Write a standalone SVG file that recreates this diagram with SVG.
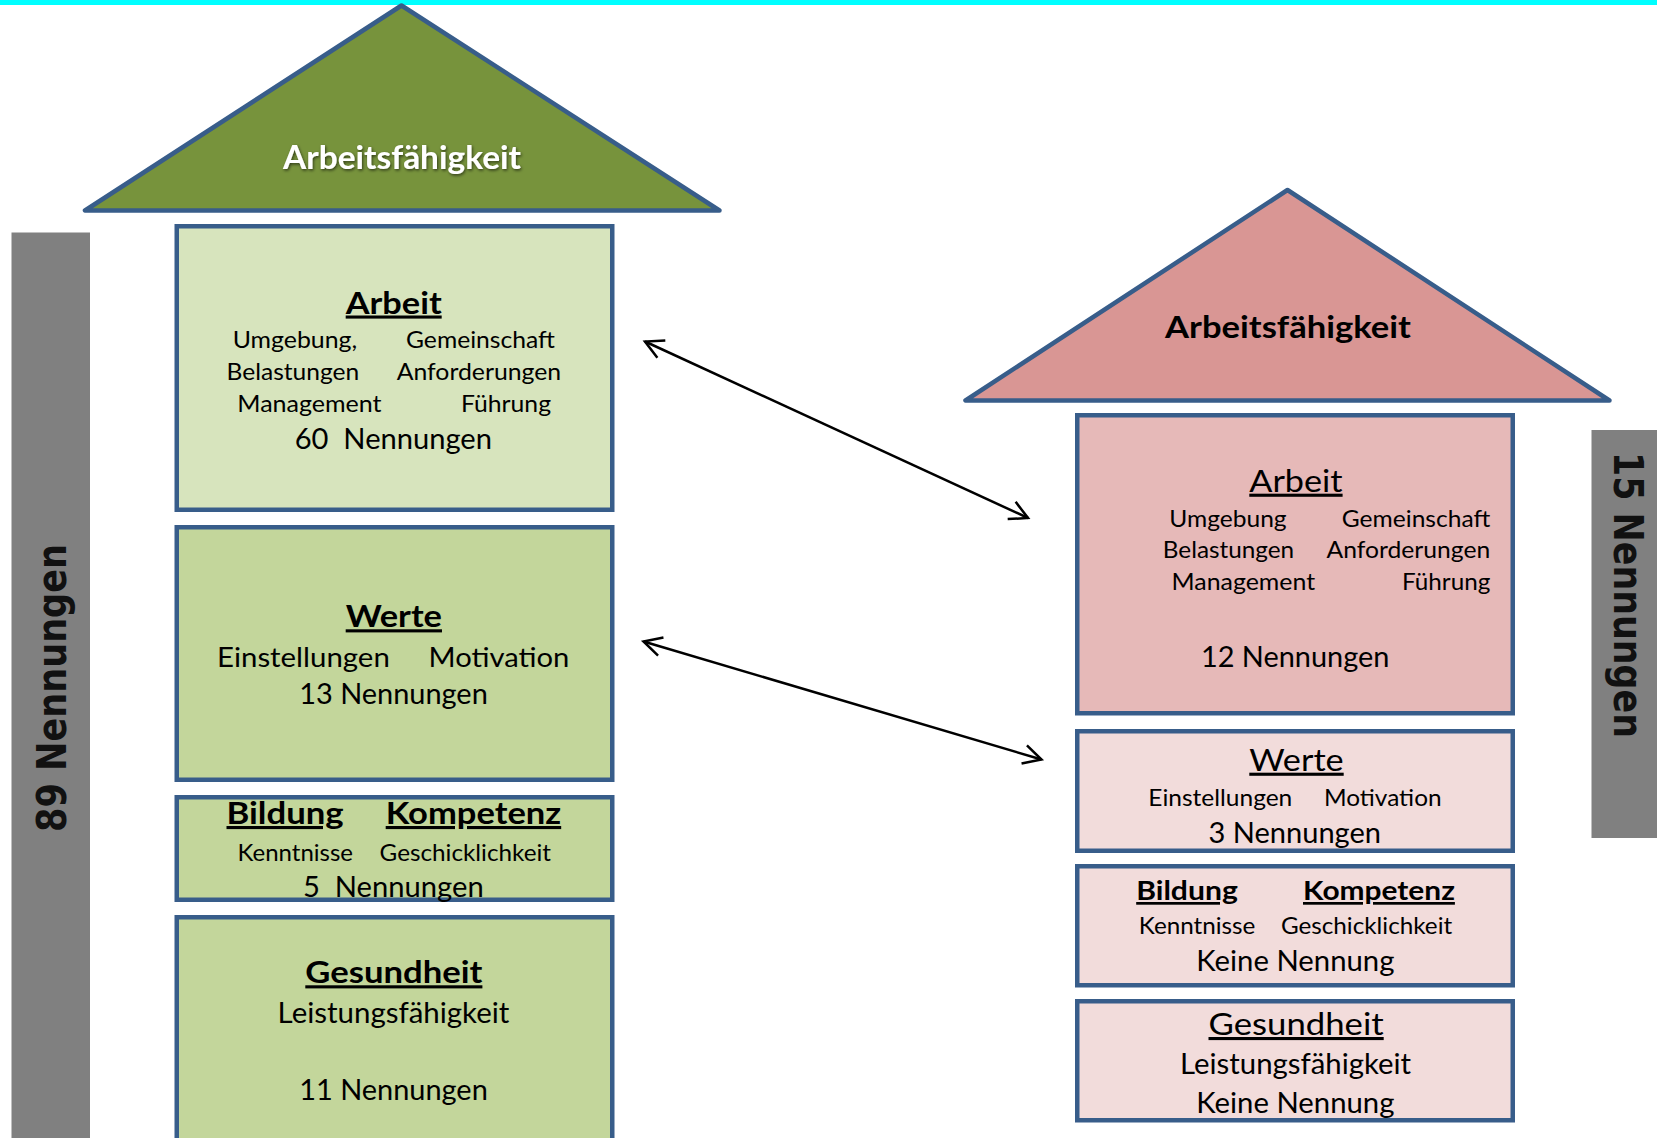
<svg xmlns="http://www.w3.org/2000/svg" width="1657" height="1138" viewBox="0 0 1657 1138">
<style>
.t{font-family:Lato,"Liberation Sans",sans-serif;fill:#000;}
.b{font-weight:bold;}
.u{text-decoration:underline;}
.pre{white-space:pre;}
.s23{font-size:23px;}
.s27{font-size:27px;}
.s28{font-size:28px;}
.s31{font-size:31px;}
.box{stroke:#385D8A;stroke-width:4.5;}
.gl1{fill:#D7E4BD;}
.gl2{fill:#C3D69B;}
.rd1{fill:#E6B9B8;}
.rd2{fill:#F2DCDB;}
.bar{fill:#808080;}
.vt{font-family:"DejaVu Sans",Verdana,sans-serif;font-weight:bold;font-size:40px;fill:#111;}
.conn{stroke:#000;stroke-width:2.5;fill:none;}
</style>
<defs>
<marker id="ah" viewBox="-22 -12 26 24" refX="0" refY="0" markerWidth="26" markerHeight="24" markerUnits="userSpaceOnUse" orient="auto-start-reverse">
<path d="M-18,-9.5 L0,0 L-18,9.5" fill="none" stroke="#000" stroke-width="2.5" stroke-linejoin="miter"/>
</marker>
<filter id="sh" x="-10%" y="-30%" width="120%" height="160%">
<feDropShadow dx="1" dy="1.5" stdDeviation="1.5" flood-color="#000" flood-opacity="0.6"/>
</filter>
</defs>

<rect x="0" y="0" width="1657" height="5" fill="#00FFFF"/>

<g id="bar-left">
<rect class="bar" x="11.5" y="232.5" width="78.5" height="906"/>
<text class="vt" transform="translate(66,688) rotate(-90)" text-anchor="middle" textLength="288" lengthAdjust="spacingAndGlyphs">89 Nennungen</text>
</g>

<g id="bar-right">
<rect class="bar" x="1591.5" y="430" width="66" height="408"/>
<text class="vt" transform="translate(1614,595) rotate(90)" text-anchor="middle" textLength="286" lengthAdjust="spacingAndGlyphs">15 Nennungen</text>
</g>

<g id="roof-left">
<polygon points="401.5,5.5 85,210.5 719.5,210.5" fill="#77933C" stroke="#385D8A" stroke-width="4.5" stroke-linejoin="round"/>
<text class="t b" x="283" y="169" font-size="32" fill="#fff" style="fill:#fff" filter="url(#sh)" textLength="238" lengthAdjust="spacingAndGlyphs">Arbeitsfähigkeit</text>
</g>

<g id="left-arbeit">
<rect class="box gl1" x="176.75" y="226.25" width="435.5" height="283.5"/>
<text class="t b u s31" x="345.7" y="313.5" textLength="96" lengthAdjust="spacingAndGlyphs">Arbeit</text>
<text class="t s23" x="232.7" y="348" textLength="124.5" lengthAdjust="spacingAndGlyphs">Umgebung,</text>
<text class="t s23" x="406" y="348" textLength="149" lengthAdjust="spacingAndGlyphs">Gemeinschaft</text>
<text class="t s23" x="226.5" y="380" textLength="132.7" lengthAdjust="spacingAndGlyphs">Belastungen</text>
<text class="t s23" x="396.7" y="380" textLength="164.5" lengthAdjust="spacingAndGlyphs">Anforderungen</text>
<text class="t s23" x="237.3" y="411.7" textLength="144.3" lengthAdjust="spacingAndGlyphs">Management</text>
<text class="t s23" x="461" y="411.7" textLength="90" lengthAdjust="spacingAndGlyphs">Führung</text>
<text class="t s28 pre" x="294.7" y="449" textLength="197.3" lengthAdjust="spacingAndGlyphs">60  Nennungen</text>
</g>

<g id="left-werte">
<rect class="box gl2" x="176.75" y="527.25" width="435.5" height="252.5"/>
<text class="t b u s31" x="345.7" y="627.3" textLength="96.3" lengthAdjust="spacingAndGlyphs">Werte</text>
<text class="t s27" x="217" y="666.7" textLength="172.8" lengthAdjust="spacingAndGlyphs">Einstellungen</text>
<text class="t s27" x="428.6" y="666.7" textLength="140.8" lengthAdjust="spacingAndGlyphs">Motivation</text>
<text class="t s28" x="299.2" y="704" textLength="188.6" lengthAdjust="spacingAndGlyphs">13 Nennungen</text>
</g>

<g id="left-bildung">
<rect class="box gl2" x="176.75" y="797.25" width="435.5" height="102.5"/>
<text class="t b u s31" x="226.5" y="824" textLength="117.2" lengthAdjust="spacingAndGlyphs">Bildung</text>
<text class="t b u s31" x="385.7" y="824" textLength="175.5" lengthAdjust="spacingAndGlyphs">Kompetenz</text>
<text class="t s23" x="237.6" y="860.7" textLength="115.4" lengthAdjust="spacingAndGlyphs">Kenntnisse</text>
<text class="t s23" x="379.6" y="860.7" textLength="171.4" lengthAdjust="spacingAndGlyphs">Geschicklichkeit</text>
<text class="t s28 pre" x="302.9" y="896.7" textLength="180.8" lengthAdjust="spacingAndGlyphs">5  Nennungen</text>
</g>

<g id="left-gesundheit">
<rect class="box gl2" x="176.75" y="917.25" width="435.5" height="260"/>
<text class="t b u s31" x="305.3" y="983.3" textLength="177.1" lengthAdjust="spacingAndGlyphs">Gesundheit</text>
<text class="t s28" x="277.6" y="1022.7" textLength="231.8" lengthAdjust="spacingAndGlyphs">Leistungsfähigkeit</text>
<text class="t s28" x="299.2" y="1100" textLength="188.6" lengthAdjust="spacingAndGlyphs">11 Nennungen</text>
</g>

<g id="roof-right">
<polygon points="1287.5,190 965.5,400.5 1609.5,400.5" fill="#D99694" stroke="#385D8A" stroke-width="4.5" stroke-linejoin="round"/>
<text class="t b" x="1165" y="338" font-size="30" textLength="246" lengthAdjust="spacingAndGlyphs">Arbeitsfähigkeit</text>
</g>

<g id="right-arbeit">
<rect class="box rd1" x="1077.25" y="415.25" width="435.5" height="298"/>
<text class="t u s31" x="1249.3" y="491.7" textLength="93.3" lengthAdjust="spacingAndGlyphs">Arbeit</text>
<text class="t s23" x="1169.3" y="526.7" textLength="117.3" lengthAdjust="spacingAndGlyphs">Umgebung</text>
<text class="t s23" x="1341.8" y="526.7" textLength="148.5" lengthAdjust="spacingAndGlyphs">Gemeinschaft</text>
<text class="t s23" x="1162.8" y="558.3" textLength="131.4" lengthAdjust="spacingAndGlyphs">Belastungen</text>
<text class="t s23" x="1326.6" y="558.3" textLength="163.7" lengthAdjust="spacingAndGlyphs">Anforderungen</text>
<text class="t s23" x="1171.6" y="590" textLength="143.5" lengthAdjust="spacingAndGlyphs">Management</text>
<text class="t s23" x="1402" y="590" textLength="88.3" lengthAdjust="spacingAndGlyphs">Führung</text>
<text class="t s28" x="1200.9" y="666.7" textLength="188.5" lengthAdjust="spacingAndGlyphs">12 Nennungen</text>
</g>

<g id="right-werte">
<rect class="box rd2" x="1077.25" y="731.25" width="435.5" height="119.5"/>
<text class="t u s31" x="1249.3" y="770.7" textLength="94.4" lengthAdjust="spacingAndGlyphs">Werte</text>
<text class="t s23" x="1148.3" y="806" textLength="144" lengthAdjust="spacingAndGlyphs">Einstellungen</text>
<text class="t s23" x="1323.9" y="806" textLength="117.7" lengthAdjust="spacingAndGlyphs">Motivation</text>
<text class="t s28" x="1208.5" y="842.7" textLength="172.5" lengthAdjust="spacingAndGlyphs">3 Nennungen</text>
</g>

<g id="right-bildung">
<rect class="box rd2" x="1077.25" y="866.25" width="435.5" height="119"/>
<text class="t b u" font-size="27" x="1136.2" y="900" textLength="101.6" lengthAdjust="spacingAndGlyphs">Bildung</text>
<text class="t b u" font-size="27" x="1303" y="900" textLength="151.9" lengthAdjust="spacingAndGlyphs">Kompetenz</text>
<text class="t s23" x="1138.8" y="934" textLength="116.6" lengthAdjust="spacingAndGlyphs">Kenntnisse</text>
<text class="t s23" x="1280.9" y="934" textLength="171.3" lengthAdjust="spacingAndGlyphs">Geschicklichkeit</text>
<text class="t s28" x="1196.3" y="970.7" textLength="198.1" lengthAdjust="spacingAndGlyphs">Keine Nennung</text>
</g>

<g id="right-gesundheit">
<rect class="box rd2" x="1077.25" y="1001.25" width="435.5" height="119"/>
<text class="t u s31" x="1208.5" y="1035" textLength="175.2" lengthAdjust="spacingAndGlyphs">Gesundheit</text>
<text class="t s28" x="1180" y="1074" textLength="231.1" lengthAdjust="spacingAndGlyphs">Leistungsfähigkeit</text>
<text class="t s28" x="1196.3" y="1112.7" textLength="198.1" lengthAdjust="spacingAndGlyphs">Keine Nennung</text>
</g>

<g id="connectors">
<line class="conn" x1="645" y1="341.5" x2="1028" y2="518" marker-start="url(#ah)" marker-end="url(#ah)"/>
<line class="conn" x1="643.5" y1="641.5" x2="1041.5" y2="759.5" marker-start="url(#ah)" marker-end="url(#ah)"/>
</g>
</svg>
